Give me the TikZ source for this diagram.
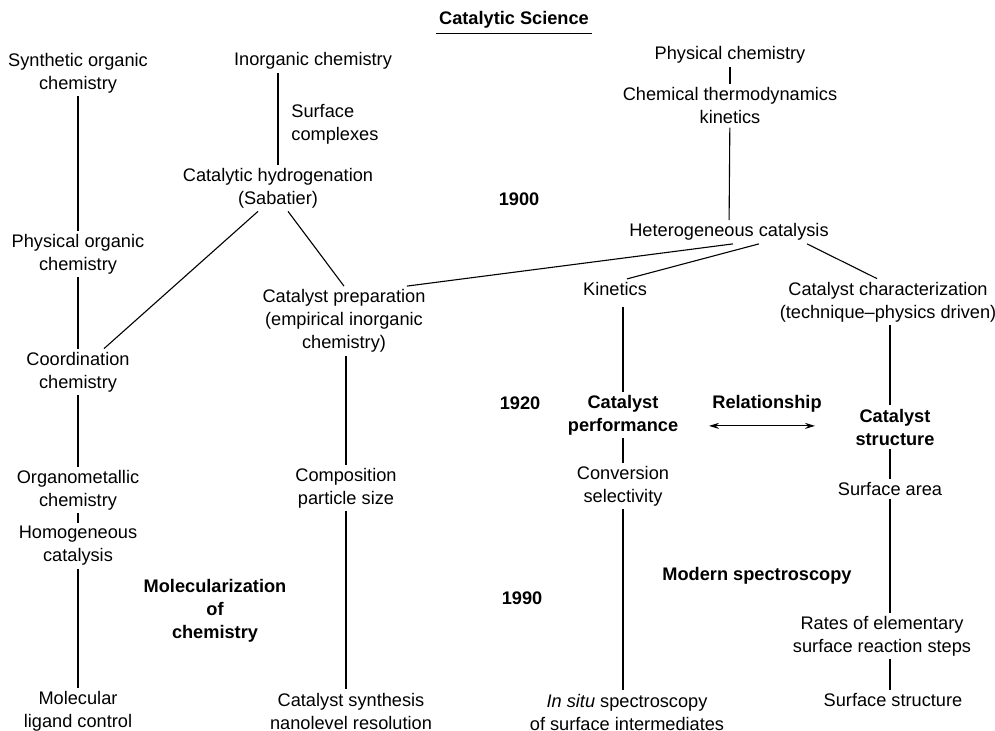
\documentclass[tikz,border=0pt]{standalone}
\usepackage{fontspec}
\setmainfont{Liberation Sans}
\usetikzlibrary{arrows.meta, positioning, calc}

\begin{document}
\begin{tikzpicture}[x=0.5pt, y=-0.5pt,
    txt/.style={align=center, inner sep=1.5pt, font=\fontsize{9.1}{11.5}\selectfont},
    hd/.style={txt, font=\fontsize{9.1}{11.5}\selectfont\bfseries},
    link/.style={line width=0.55pt}]
        \useasboundingbox (0,0) rectangle (995,731);
        % Title
        \node[hd] (title) at (514,20) {Catalytic Science};
        \draw[link] ([yshift=-1pt]title.south west) -- ([yshift=-1pt]title.south east);

        % Left column: organic chemistry
        \node[txt] (syn) at (78,73) {Synthetic organic\\chemistry};
        \node[txt] (porg) at (78,254) {Physical organic\\chemistry};
        \node[txt] (coord) at (78,372) {Coordination\\chemistry};
        \node[txt] (organo) at (78,490) {Organometallic\\chemistry};
        \node[txt] (homog) at (78,546) {Homogeneous\\catalysis};
        \node[txt] (molec) at (78,711) {Molecular\\ligand control};

        % Inorganic branch
        \node[txt] (inorg) at (313,61) {Inorganic chemistry};
        \node[txt, anchor=west, align=left] (surf) at (288,124) {Surface\\complexes};
        \node[txt] (hyd) at (278,188) {Catalytic hydrogenation\\(Sabatier)};
        \node[txt] (prep) at (344,321) {Catalyst preparation\\(empirical inorganic\\chemistry)};
        \node[txt] (comp) at (346,488) {Composition\\particle size};
        \node[txt] (synth) at (351,711) {Catalyst synthesis\\nanolevel resolution};
        \node[hd] (molz) at (215,611) {Molecularization\\of\\chemistry};

        % Physical chemistry branch
        \node[txt] (phys) at (730,55) {Physical chemistry};
        \node[txt] (thermo) at (730,106) {Chemical thermodynamics\\kinetics};
        \node[txt] (het) at (729,232) {Heterogeneous catalysis};
        \node[txt] (kin) at (615,289) {Kinetics};
        \node[hd] (perf) at (623,415) {Catalyst\\performance};
        \node[txt] (conv) at (623,486) {Conversion\\selectivity};
        \node[txt] (insitu) at (627,712) {\textit{In situ} spectroscopy\\of surface intermediates};
        \node[txt] (char) at (888,302) {Catalyst characterization\\(technique--physics driven)};
        \node[hd] (struct) at (895,427) {Catalyst\\structure};
        \node[txt] (sarea) at (890,489) {Surface area};
        \node[txt] (rates) at (882,636) {Rates of elementary\\surface reaction steps};
        \node[txt] (sstruct) at (893,700) {Surface structure};
        \node[hd] (rel) at (767,404) {Relationship};
        \node[hd] (modern) at (757,576) {Modern spectroscopy};

        % Years
        \node[hd] (y1900) at (519,199) {1900};
        \node[hd] (y1920) at (520,403) {1920};
        \node[hd] (y1990) at (522,598) {1990};

        % Connectors
        \draw[link] (syn) -- (porg);
        \draw[link] (porg) -- (coord);
        \draw[link] (coord) -- (organo);
        \draw[link] (organo) -- (homog);
        \draw[link] (homog) -- (molec);
        \draw[link] (hyd.north) -- (hyd.north |- inorg.south);
        \draw[link] ([xshift=-10pt]hyd.south) -- ([xshift=13pt]coord.north);
        \draw[link] ([xshift=5pt]hyd.south) -- (prep.north);
        \draw[link] (comp.north) -- (comp.north |- prep.south);
        \draw[link] (comp.south) -- (comp.south |- synth.north);
        \draw[link] (phys) -- (thermo);
        \draw[link] (thermo) -- (het);
        \draw[link] ([xshift=2pt]het.south) -- ([xshift=-11pt]prep.north east);
        \draw[link] ([xshift=15pt]het.south) -- ([xshift=6pt]kin.north);
        \draw[link] ([xshift=39pt]het.south) -- ([xshift=-5.5pt]char.north);
        \draw[link, shorten >=4pt] (perf.north) -- (perf.north |- kin.south);
        \draw[link] (perf) -- (conv);
        \draw[link] (conv.south) -- (conv.south |- insitu.north);
        \draw[link] ([xshift=-2.5pt]struct.north) -- ([xshift=-2.5pt]struct.north |- char.south);
        \draw[link] (sarea.north) -- (sarea.north |- struct.south);
        \draw[link] (sarea.south) -- (sarea.south |- rates.north);
        \draw[link] ([xshift=4pt]rates.south) -- ([xshift=4pt]rates.south |- sstruct.north);
        \draw[link, {Stealth[length=5pt,width=3pt]}-{Stealth[length=5pt,width=3pt]}]
            ([yshift=-5pt]rel.south west) -- ([xshift=-5pt,yshift=-5pt]rel.south east);
\end{tikzpicture}
\end{document}
